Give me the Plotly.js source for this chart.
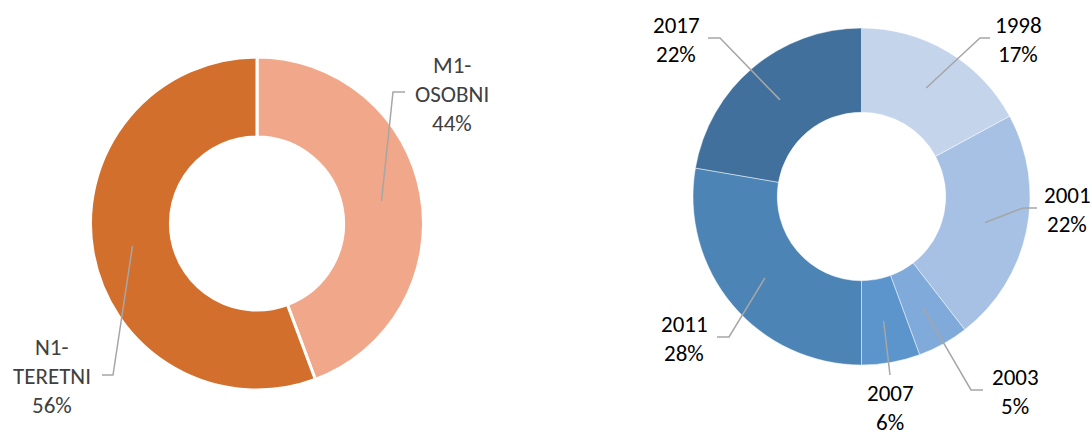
<!DOCTYPE html>
<html>
<head>
<meta charset="utf-8">
<script src="https://cdn.plot.ly/plotly-3.0.1.min.js"></script>
<style>
  html, body { margin: 0; padding: 0; background: #ffffff; }
  #chart { width: 1092px; height: 439px; }
</style>
</head>
<body>
<div id="chart"></div>
<script>
// ---- data ----
const leftLabels = ['M1-OSOBNI', 'N1-TERETNI'];
const leftValues = [44.3, 55.7];
const rightLabels = ['1998', '2001', '2003', '2007', '2011', '2017'];
const rightValues = [17.1, 22.4, 4.9, 5.6, 27.7, 22.3];

// ---- styles ----
const leftColors = ['#F1A88A', '#D36F2C'];
const rightColors = ['#C3D4EB', '#A6C1E4', '#7FAADA', '#5B95CC', '#4C84B6', '#42709C'];

const W = 1092, H = 439;
const FONT = 'Carlito, Lato, "Liberation Sans", sans-serif';
const FONT_SIZE = 23;

// pie geometry in pixels
const leftGeo = { cx: 257, cy: 223.5, r: 166.5, hole: 0.52, color: '#404040', lineW: 3, lineC: '#ffffff' };
const rightGeo = { cx: 861.5, cy: 196.5, r: 168.5, hole: 0.50, color: '#000000', lineW: 0.8, lineC: 'rgba(255,255,255,0.6)' };

// label placement (pixels): elbow, end of leader, text center of first line
const leftPlace = [
  { elbow: [393, 92], end: [405, 92], text: [452, 65] },
  { elbow: [113, 375], end: [102, 375], text: [52, 347] }
];
const rightPlace = [
  { elbow: [980, 38], end: [990, 38], text: [1018, 25] },
  { elbow: [1023, 208], end: [1037, 208], text: [1067, 195] },
  { elbow: [971, 390], end: [983, 390], text: [1015, 377] },
  { elbow: null, end: [890, 375], text: [890, 393] },
  { elbow: [729, 337], end: [717, 337], text: [684, 324] },
  { elbow: [720, 38], end: [708, 38], text: [676, 25] }
];
const LINE_GAP = 29;

const px = x => x / W;
const py = y => 1 - y / H;

function domainOf(g) {
  return {
    x: [px(g.cx - g.r), px(g.cx + g.r)],
    y: [py(g.cy + g.r), py(g.cy - g.r)]
  };
}

function pieTrace(labels, values, colors, g) {
  return {
    type: 'pie',
    labels: labels,
    values: values,
    sort: false,
    direction: 'clockwise',
    rotation: 0,
    hole: g.hole,
    textinfo: 'none',
    hoverinfo: 'label+percent',
    marker: { colors: colors, line: { color: g.lineC, width: g.lineW } },
    domain: domainOf(g)
  };
}

const shapes = [];
const annotations = [];

function addLabels(labels, values, g, place) {
  const total = values.reduce((a, b) => a + b, 0);
  let cum = 0;
  const rMid = g.r * (1 + g.hole) / 2;
  labels.forEach((lab, i) => {
    const frac = values[i] / total;
    const mid = (cum + frac / 2) * 2 * Math.PI;
    cum += frac;
    const sx = g.cx + rMid * Math.sin(mid);
    const sy = g.cy - rMid * Math.cos(mid);
    const p = place[i];
    let path = 'M ' + px(sx) + ' ' + py(sy);
    if (p.elbow) path += ' L ' + px(p.elbow[0]) + ' ' + py(p.elbow[1]);
    path += ' L ' + px(p.end[0]) + ' ' + py(p.end[1]);
    shapes.push({
      type: 'path', xref: 'paper', yref: 'paper', path: path,
      line: { color: '#A6A6A6', width: 1.5 }
    });
    const lines = [];
    const dash = lab.indexOf('-');
    if (dash >= 0) {
      lines.push(lab.slice(0, dash + 1));
      lines.push(lab.slice(dash + 1));
    } else {
      lines.push(lab);
    }
    lines.push(Math.round(frac * 100) + '%');
    lines.forEach((t, k) => {
      annotations.push({
        xref: 'paper', yref: 'paper',
        x: px(p.text[0]), y: py(p.text[1] + k * LINE_GAP),
        xanchor: 'center', yanchor: 'middle',
        borderpad: 0,
        text: t, showarrow: false,
        font: { family: FONT, size: FONT_SIZE, color: g.color }
      });
    });
  });
}

addLabels(leftLabels, leftValues, leftGeo, leftPlace);
addLabels(rightLabels, rightValues, rightGeo, rightPlace);

const data = [
  pieTrace(leftLabels, leftValues, leftColors, leftGeo),
  pieTrace(rightLabels, rightValues, rightColors, rightGeo)
];

const layout = {
  width: W, height: H,
  margin: { l: 0, r: 0, t: 0, b: 0, pad: 0 },
  paper_bgcolor: '#ffffff',
  plot_bgcolor: '#ffffff',
  showlegend: false,
  shapes: shapes,
  annotations: annotations
};

Plotly.newPlot('chart', data, layout, { displayModeBar: false, staticPlot: true });
</script>
</body>
</html>
